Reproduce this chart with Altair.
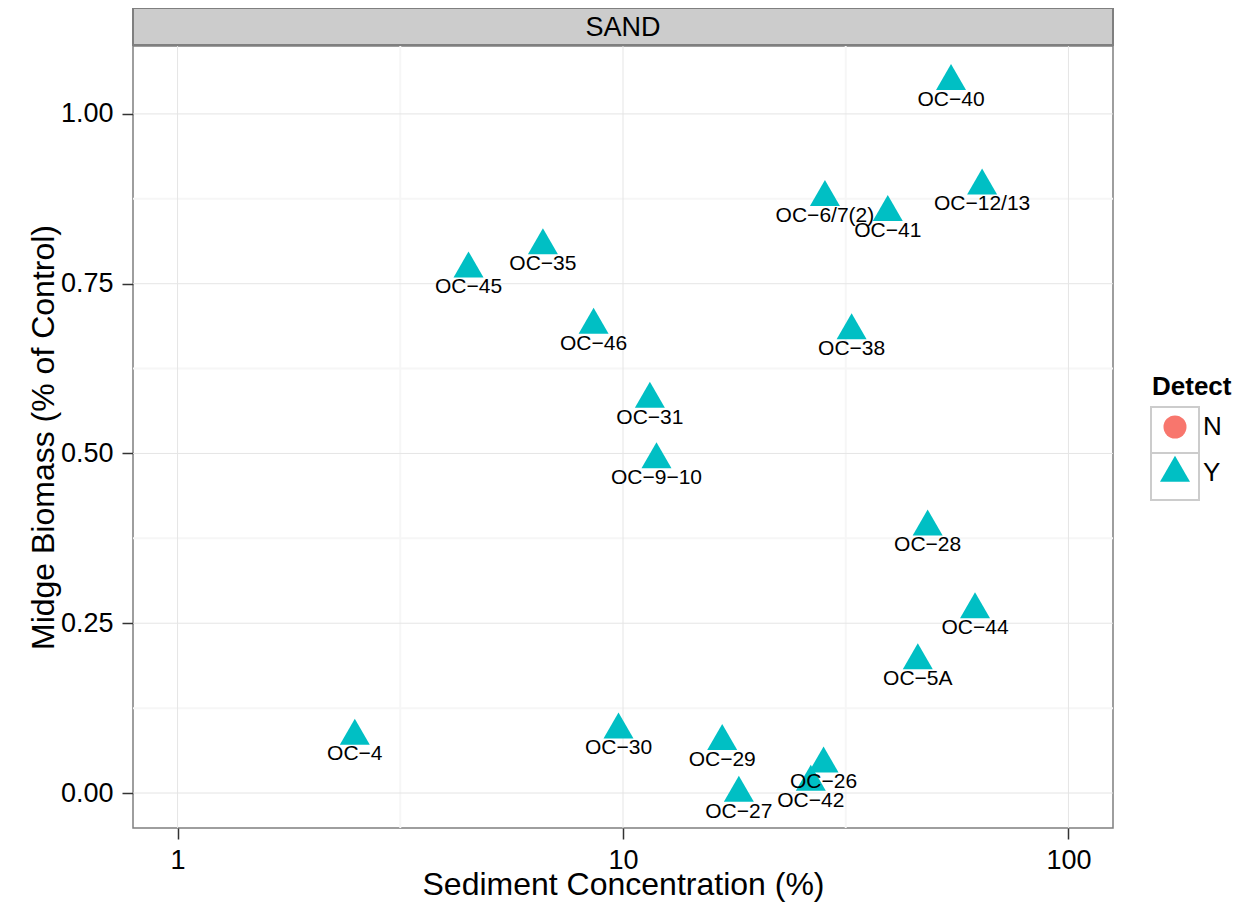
import altair as alt
import pandas as pd

# ---- data ----
labels = ["OC−40", "OC−12/13", "OC−6/7(2)", "OC−41", "OC−35", "OC−45", "OC−46",
          "OC−38", "OC−31", "OC−9−10", "OC−28", "OC−44", "OC−5A", "OC−4",
          "OC−30", "OC−29", "OC−42", "OC−26", "OC−27"]
sediment = [54.5, 64.0, 28.4, 39.3, 6.61, 4.50, 8.59,
            32.6, 11.49, 11.89, 48.3, 61.7, 45.9, 2.50,
            9.77, 16.7, 26.4, 28.2, 18.2]
biomass = [1.048, 0.894, 0.877, 0.855, 0.806, 0.772, 0.689,
           0.681, 0.580, 0.491, 0.392, 0.270, 0.195, 0.084,
           0.093, 0.076, 0.016, 0.043, 0.0]
detect = ["Y", "Y", "Y", "Y", "Y", "Y", "Y",
          "Y", "Y", "Y", "Y", "Y", "Y", "Y",
          "Y", "Y", "Y", "Y", "Y"]
detect_levels = ["N", "Y"]
detect_colors = ["#F8766D", "#00BFC4"]
strip_label = ["SAND"]

x_major = [1, 10, 100]
x_minor = [3.1623, 31.623]
y_major = [0.0, 0.25, 0.5, 0.75, 1.0]
y_minor = [0.125, 0.375, 0.625, 0.875]

FONT = "Liberation Sans"
W, H = 980, 782
TRI = "M0,-1.1547L1,0.57735L-1,0.57735Z"

df = pd.DataFrame({"label": labels, "sediment": sediment,
                   "biomass": biomass, "Detect": detect})

xscale = alt.Scale(type="log", domain=[0.7943, 125.9], nice=False)
yscale = alt.Scale(domain=[-0.0515, 1.1], nice=False, zero=False)

xaxis = alt.Axis(values=x_major, format="d", title="Sediment Concentration (%)",
                 titleX=W / 2, titleY=66, titleBaseline="alphabetic",
                 titleAlign="center", labelPadding=8)
yaxis = alt.Axis(values=y_major, format=".2f", title="Midge Biomass (% of Control)",
                 titleX=-80, titleY=H / 2, titleAngle=-90,
                 titleBaseline="alphabetic", titleAlign="center", labelPadding=9)

def vrules(vals, color, width):
    return alt.Chart(pd.DataFrame({"v": vals})).mark_rule(
        color=color, strokeWidth=width).encode(
        x=alt.X("v:Q", scale=xscale, axis=xaxis))

def hrules(vals, color, width):
    return alt.Chart(pd.DataFrame({"v": vals})).mark_rule(
        color=color, strokeWidth=width).encode(
        y=alt.Y("v:Q", scale=yscale, axis=yaxis))

minor_x = vrules(x_minor, "#F6F6F6", 2)
minor_y = hrules(y_minor, "#F6F6F6", 2)
major_x = vrules(x_major, "#E5E5E5", 1)
major_y = hrules(y_major, "#E5E5E5", 1)

strip_df = pd.DataFrame({"s": strip_label})
strip_rect = alt.Chart(strip_df).mark_rect(
    fill="#CCCCCC", stroke="#7F7F7F", strokeWidth=2).encode(
    x=alt.value(0), x2=alt.value(W), y=alt.value(-38), y2=alt.value(-1))
strip_text = alt.Chart(strip_df).mark_text(
    font=FONT, fontSize=27, color="black", baseline="alphabetic", align="center").encode(
    x=alt.value(W / 2), y=alt.value(-10), text="s:N")

box1 = alt.Chart(strip_df).mark_rect(
    fill="white", stroke="#CCCCCC", strokeWidth=2).encode(
    x=alt.value(1018), x2=alt.value(1066), y=alt.value(361), y2=alt.value(407))
box2 = alt.Chart(strip_df).mark_rect(
    fill="white", stroke="#CCCCCC", strokeWidth=2).encode(
    x=alt.value(1018), x2=alt.value(1066), y=alt.value(407), y2=alt.value(454))

points = alt.Chart(df).mark_point(filled=True, opacity=1).encode(
    x=alt.X("sediment:Q", scale=xscale, axis=xaxis),
    y=alt.Y("biomass:Q", scale=yscale, axis=yaxis),
    color=alt.Color("Detect:N", scale=alt.Scale(domain=detect_levels, range=detect_colors),
                    title="Detect"),
    shape=alt.Shape("Detect:N", scale=alt.Scale(domain=detect_levels, range=["circle", TRI]),
                    title="Detect"),
    size=alt.Size("Detect:N", scale=alt.Scale(domain=detect_levels, range=[530, 900]),
                  title="Detect"),
)

texts = alt.Chart(df).mark_text(
    font=FONT, fontSize=21, color="black", baseline="alphabetic", align="center", dy=24.5
).encode(
    x=alt.X("sediment:Q", scale=xscale, axis=xaxis),
    y=alt.Y("biomass:Q", scale=yscale, axis=yaxis),
    text="label:N",
)

chart = alt.layer(
    minor_x, minor_y, major_x, major_y, strip_rect, strip_text, box1, box2, points, texts
).properties(
    width=W, height=H,
    autosize=alt.AutoSizeParams(type="none"),
    padding={"left": 125, "top": 38, "right": 130, "bottom": 75},
).configure_view(
    stroke="#7F7F7F", strokeWidth=1.5, fill="white"
).configure_axis(
    grid=False, domain=False,
    labelFont=FONT, labelFontSize=27, labelColor="black",
    tickColor="#333333", tickSize=11, tickWidth=1.5,
    titleFont=FONT, titleFontSize=32, titleFontWeight="normal", titleColor="black",
).configure_legend(
    orient="none", legendX=1019, legendY=328, padding=0,
    titleFont=FONT, titleFontSize=26, titleFontWeight="bold", titleColor="black",
    titlePadding=14,
    labelFont=FONT, labelFontSize=26, labelColor="black", labelOffset=13,
    rowPadding=15, symbolOffset=8, symbolStrokeWidth=0,
)

chart.save("out.html", embed_options={"renderer": "svg", "actions": False})
